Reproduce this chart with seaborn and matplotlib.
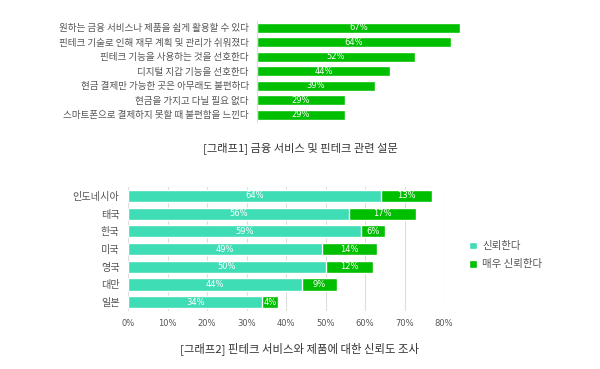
import pandas as pd
import seaborn as sns
import matplotlib.pyplot as plt

# graph 1 data
survey_items = ['원하는 금융 서비스나 제품을 쉽게 활용할 수 있다',
                '핀테크 기술로 인해 재무 계획 및 관리가 쉬워졌다',
                '핀테크 기능을 사용하는 것을 선호한다',
                '디지털 지갑 기능을 선호한다',
                '현금 결제만 가능한 곳은 아무래도 불편하다',
                '현금을 가지고 다닐 필요 없다',
                '스마트폰으로 결제하지 못할 때 불편함을 느낀다']
survey_pct = [67, 64, 52, 44, 39, 29, 29]

# graph 2 data
countries = ['인도네시아', '태국', '한국', '미국', '영국', '대만', '일본']
trust = [64, 56, 59, 49, 50, 44, 34]
trust_much = [13, 17, 6, 14, 12, 9, 4]

TEAL = '#3fddb5'
GREEN = '#00bf00'
TXT = '#555555'

sns.set_theme(style='white')
plt.rcParams['font.family'] = ['Noto Sans CJK KR', 'DejaVu Sans']

fig = plt.figure(figsize=(6, 3.69), dpi=100)

### graph 1
df1 = pd.DataFrame({'item': survey_items, 'pct': survey_pct})
ax1 = fig.add_axes([257 / 600, 0.669, 303 / 600, 0.275])
sns.barplot(data=df1, x='pct', y='item', color=GREEN, saturation=1,
            width=0.7, ax=ax1)
ax1.set_xlim(0, 100)
ax1.set_xlabel('')
ax1.set_ylabel('')
ax1.set_xticks([])
for s in ['top', 'right', 'bottom']:
    ax1.spines[s].set_visible(False)
ax1.spines['left'].set_color('#dddddd')
ax1.spines['left'].set_linewidth(0.8)
ax1.tick_params(axis='y', length=0, pad=6, labelsize=6.9, labelcolor=TXT)
for i, v in enumerate(survey_pct):
    ax1.text(v / 2, i, f'{v}%', ha='center', va='center', color='white',
             fontsize=6, fontfamily='DejaVu Sans')

fig.text(0.5, 1 - 148 / 369, '[그래프1] 금융 서비스 및 핀테크 관련 설문',
         ha='center', va='center', fontsize=8.1, color='#333333')

### graph 2
df2 = pd.DataFrame({'country': countries, 'trust': trust,
                    'total': [a + b for a, b in zip(trust, trust_much)]})
ax2 = fig.add_axes([128 / 600, 0.157, 316 / 600, 0.336])
sns.barplot(data=df2, x='total', y='country', color=GREEN, saturation=1,
            width=0.68, ax=ax2, label='매우 신뢰한다')
sns.barplot(data=df2, x='trust', y='country', color=TEAL, saturation=1,
            width=0.68, ax=ax2, label='신뢰한다')
ax2.set_xlim(0, 80)
ax2.set_xticks(range(0, 81, 10))
ax2.set_xticklabels([f'{t}%' for t in range(0, 81, 10)])
ax2.set_xlabel('')
ax2.set_ylabel('')
ax2.grid(axis='x', color='#dddddd', linewidth=0.8)
ax2.set_axisbelow(True)
for s in ['top', 'right', 'bottom', 'left']:
    ax2.spines[s].set_visible(False)
ax2.tick_params(axis='y', length=0, pad=6, labelsize=7.3, labelcolor=TXT)
ax2.tick_params(axis='x', length=0, pad=6, labelsize=6, labelcolor=TXT)
for lab in ax2.get_xticklabels():
    lab.set_fontfamily('DejaVu Sans')
for i, (a, b) in enumerate(zip(trust, trust_much)):
    ax2.text(a / 2, i, f'{a}%', ha='center', va='center', color='white',
             fontsize=6, fontfamily='DejaVu Sans')
    ax2.text(a + b / 2, i, f'{b}%', ha='center', va='center', color='white',
             fontsize=6, fontfamily='DejaVu Sans')

handles, labels = ax2.get_legend_handles_labels()
leg = ax2.legend(handles[::-1], labels[::-1], loc='center left',
                 bbox_to_anchor=(1.05, 0.45), frameon=False, fontsize=7.5,
                 handlelength=0.75, handleheight=0.75, handletextpad=0.5,
                 labelspacing=0.8, labelcolor=TXT)

fig.text(0.5, 1 - 349 / 369, '[그래프2] 핀테크 서비스와 제품에 대한 신뢰도 조사',
         ha='center', va='center', fontsize=8.2, color='#333333')

fig.savefig('out.png', dpi=100)
